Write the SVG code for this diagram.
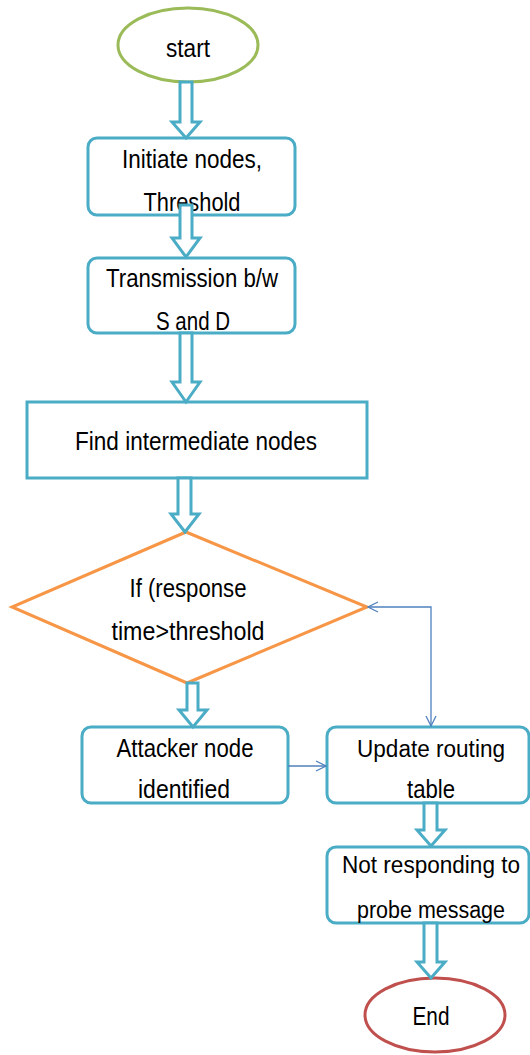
<svg xmlns="http://www.w3.org/2000/svg" width="530" height="1055" viewBox="0 0 530 1055">
<defs>
<style>
.t{font-family:"Liberation Sans",Arial,sans-serif;font-size:26px;fill:#000;text-anchor:middle}
.s{font-size:23px}
.box{fill:#fff;stroke:#4BACC6;stroke-width:3}
.blk{fill:#fff;stroke:#4BACC6;stroke-width:3;stroke-linejoin:miter}
.thin{fill:none;stroke:#4F81BD;stroke-width:1.3}
</style>
<marker id="oa" viewBox="0 0 12 12" refX="11" refY="6" markerWidth="12" markerHeight="12" markerUnits="userSpaceOnUse" orient="auto-start-reverse">
<path d="M1,1 L11,6 L1,11" fill="none" stroke="#4F81BD" stroke-width="1.3"/>
</marker>
</defs>
<rect width="530" height="1055" fill="#fff"/>
<g id="start">
<ellipse cx="188" cy="45" rx="70" ry="37" fill="#fff" stroke="#9BBB59" stroke-width="3"/>
<text class="t" x="188" y="57" textLength="44" lengthAdjust="spacingAndGlyphs">start</text>
</g>
<g id="init">
<rect class="box" x="88" y="138" width="207" height="77" rx="9"/>
<text class="t" x="192" y="168" textLength="140" lengthAdjust="spacingAndGlyphs">Initiate nodes,</text>
<text class="t" x="192" y="211" textLength="97" lengthAdjust="spacingAndGlyphs">Threshold</text>
</g>
<g id="trans">
<rect class="box" x="88" y="258" width="207" height="75" rx="9"/>
<text class="t" x="192" y="287" textLength="172" lengthAdjust="spacingAndGlyphs">Transmission b/w</text>
<text class="t" x="193" y="330" textLength="74" lengthAdjust="spacingAndGlyphs">S and D</text>
</g>
<g id="find">
<rect class="box" x="27" y="402" width="340" height="76"/>
<text class="t" x="196" y="450" textLength="242" lengthAdjust="spacingAndGlyphs">Find intermediate nodes</text>
</g>
<g id="decision">
<polygon points="186,532 367,607 187,683 12,607" fill="#fff" stroke="#F79646" stroke-width="3"/>
<text class="t" x="188" y="597" textLength="117" lengthAdjust="spacingAndGlyphs">If (response</text>
<text class="t" x="188" y="640" textLength="153" lengthAdjust="spacingAndGlyphs">time&gt;threshold</text>
</g>
<g id="attacker">
<rect class="box" x="82" y="727" width="206" height="76" rx="9"/>
<text class="t" x="185" y="757" textLength="137" lengthAdjust="spacingAndGlyphs">Attacker node</text>
<text class="t" x="184" y="798" textLength="92" lengthAdjust="spacingAndGlyphs">identified</text>
</g>
<g id="update">
<rect class="box" x="327" y="727" width="202" height="76" rx="9"/>
<text class="t s" x="431" y="757" textLength="148" lengthAdjust="spacingAndGlyphs">Update routing</text>
<text class="t" x="431" y="798" textLength="48" lengthAdjust="spacingAndGlyphs">table</text>
</g>
<g id="notresp">
<rect class="box" x="327" y="847" width="202" height="76" rx="9"/>
<text class="t s" x="431" y="873" textLength="178" lengthAdjust="spacingAndGlyphs">Not responding to</text>
<text class="t s" x="431" y="918" textLength="148" lengthAdjust="spacingAndGlyphs">probe message</text>
</g>
<g id="end">
<ellipse cx="435" cy="1015" rx="70" ry="37" fill="#fff" stroke="#C0504D" stroke-width="3"/>
<text class="t" x="431" y="1025" textLength="37" lengthAdjust="spacingAndGlyphs">End</text>
</g>
<g id="connectors">
<polygon class="blk" points="180,82 192,82 192,122 200,122 186,138 172,122 180,122"/>
<polygon class="blk" points="180,205 192,205 192,238 200,238 186,257 172,238 180,238"/>
<polygon class="blk" points="180,333 192,333 192,382 200,382 186,402 172,382 180,382"/>
<polygon class="blk" points="178,478 191,478 191,514 199,514 185,532 171,514 178,514"/>
<polygon class="blk" points="187,683 198,683 198,710 207,710 193,727 179,710 187,710"/>
<polygon class="blk" points="424,803 437,803 437,830 445,830 431,846 417,830 424,830"/>
<polygon class="blk" points="424,923 437,923 437,962 445,962 431,978 417,962 424,962"/>
<path class="thin" d="M288,766 H326" marker-end="url(#oa)"/>
<path class="thin" d="M368,607 H431 V726" marker-start="url(#oa)" marker-end="url(#oa)"/>
</g>
</svg>
